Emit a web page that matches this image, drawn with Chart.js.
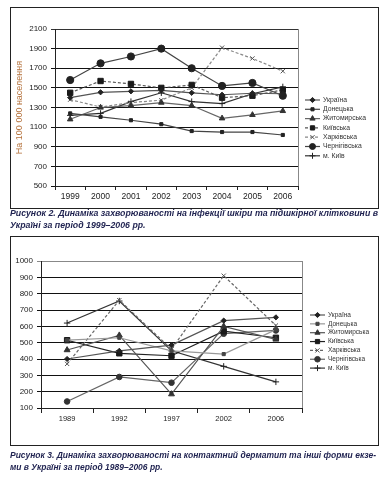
<!DOCTYPE html>
<html><head><meta charset="utf-8">
<script src="https://cdn.jsdelivr.net/npm/chart.js@4"></script>
<style>
body{margin:0;background:#fff;width:381px;height:477px;position:relative;overflow:hidden;font-family:"Liberation Sans",Arial,sans-serif}
canvas{position:absolute}
.frame{position:absolute;border:1px solid #222;box-sizing:border-box;pointer-events:none}
.cap{position:absolute;left:10px;white-space:nowrap;font:bold italic 9px "Liberation Sans",Arial,sans-serif;color:#1f2250;transform-origin:0 50%;line-height:11px}
</style></head><body>
<canvas id="c1" width="368" height="201" style="left:10px;top:7px"></canvas>
<div class="frame" style="left:10px;top:7px;width:369px;height:202px"></div>
<div class="cap" id="a1" style="top:208px">Рисунок 2. Динаміка захворюваності на інфекції шкіри та підшкірної клітковини в</div>
<div class="cap" id="a2" style="top:220px">Україні за період 1999–2006 рр.</div>
<canvas id="c2" width="368" height="209" style="left:10px;top:236px"></canvas>
<div class="frame" style="left:10px;top:236px;width:369px;height:210px"></div>
<div class="cap" id="b1" style="top:450px">Рисунок 3. Динаміка захворюваності на контактний дерматит та інші форми екзе-</div>
<div class="cap" id="b2" style="top:462px">ми в Україні за період 1989–2006 рр.</div>
<script>
// ---- data ----
const seriesNames = ['Україна','Донецька','Житомирська','Київська','Харківська','Чернігівська','м. Київ'];

const years1 = ['1999','2000','2001','2002','2003','2004','2005','2006'];
const ukraine1   = [1400,1455,1465,1475,1450,1430,1445,1440];
const donetsk1   = [1240,1205,1170,1130,1060,1050,1050,1020];
const zhytomyr1  = [1180,1300,1320,1350,1320,1190,1225,1265];
const kyivObl1   = [1450,1570,1540,1500,1530,1400,1420,1480];
const kharkiv1   = [1380,1305,1350,1375,1500,1910,1800,1670];
const chernihiv1 = [1580,1750,1820,1900,1700,1520,1550,1420];
const kyivCity1  = [1220,1240,1360,1450,1360,1340,1440,1510];
const yTicks1 = [500,700,900,1100,1300,1500,1700,1900,2100];
const yTitle1 = 'На 100 000 населення';

const years2 = ['1989','1992','1997','2002','2006'];
const ukraine2   = [400,450,485,635,655];
const donetsk2   = [515,530,450,430,580];
const zhytomyr2  = [455,545,185,600,520];
const kyivObl2   = [515,435,420,570,530];
const kharkiv2   = [370,760,460,910,605];
const chernihiv2 = [140,290,255,555,575];
const kyivCity2  = [620,755,450,355,260];
const yTicks2 = [100,200,300,400,500,600,700,800,900,1000];

// ---- styles ----
const markers = ['rectRot','rect','triangle','rect','crossRot','circle','cross'];
const radii1  = [2.6,2.2,3.2,3.8,3,3.6,3.2];
const radii2  = [2.6,2.2,3.4,3.8,3,2.8,3.2];
const style1 = [
  {c:'#555',m:'#222',d:[]},
  {c:'#444',m:'#222',d:[]},
  {c:'#666',m:'#333',d:[]},
  {c:'#555',m:'#1a1a1a',d:[3,2]},
  {c:'#888',m:'#555',d:[3,2]},
  {c:'#444',m:'#222',d:[]},
  {c:'#333',m:'#222',d:[]}
];
const style2 = [
  {c:'#555',m:'#222',d:[]},
  {c:'#999',m:'#444',d:[]},
  {c:'#555',m:'#333',d:[]},
  {c:'#222',m:'#1a1a1a',d:[]},
  {c:'#666',m:'#555',d:[3,2]},
  {c:'#666',m:'#333',d:[]},
  {c:'#333',m:'#222',d:[]}
];

function makeSets(arrs, st, radii){
  return arrs.map((a,i)=>({
    label: seriesNames[i], data: a,
    borderColor: st[i].c, borderWidth: 1.2, borderDash: st[i].d,
    pointStyle: markers[i], pointRadius: radii[i],
    pointBackgroundColor: st[i].m, pointBorderColor: st[i].m, pointBorderWidth: 1,
    fill:false, tension:0
  }));
}

const legendPlugin = {
  id:'customLegend',
  afterDraw(chart, args, o){
    const ctx = chart.ctx;
    ctx.save();
    chart.data.datasets.forEach((ds,i)=>{
      const y = o.y + i*o.dy;
      ctx.strokeStyle = ds.borderColor; ctx.lineWidth = 1.2;
      ctx.setLineDash(ds.borderDash||[]);
      ctx.beginPath(); ctx.moveTo(o.x, y); ctx.lineTo(o.x+o.w, y); ctx.stroke();
      ctx.setLineDash([]);
      ctx.fillStyle = ds.pointBackgroundColor; ctx.strokeStyle = ds.pointBorderColor; ctx.lineWidth = 1;
      Chart.helpers.drawPoint(ctx, {pointStyle: ds.pointStyle, radius: Math.min(ds.pointRadius,3), rotation:0, borderWidth:1}, o.x+o.w/2, y);
      ctx.fillStyle = '#333'; ctx.font = o.font; ctx.textBaseline = 'middle'; ctx.textAlign='left';
      ctx.fillText(ds.label, o.tx, y);
    });
    ctx.restore();
  }
};
const borderPlugin = {
  id:'plotBorder',
  beforeDatasetsDraw(chart, args, o){
    const a = chart.chartArea, ctx = chart.ctx;
    ctx.save(); ctx.strokeStyle = o.color; ctx.lineWidth = 1;
    ctx.beginPath();
    ctx.moveTo(Math.round(a.right)+0.5, a.top); ctx.lineTo(Math.round(a.right)+0.5, a.bottom);
    ctx.stroke(); ctx.restore();
  }
};

function makeChart(id, labels, arrs, st, radii, cfg){
  return new Chart(document.getElementById(id), {
    type:'line',
    data:{labels, datasets: makeSets(arrs, st, radii)},
    plugins:[legendPlugin, borderPlugin],
    options:{
      responsive:false, animation:false,
      layout:{padding:cfg.pad},
      plugins:{legend:{display:false}, tooltip:{enabled:false},
        customLegend:cfg.legend, plotBorder:{color:'#888'}},
      scales:{
        x:{type:'category', offset:true,
          grid:{offset:true, drawOnChartArea:false, drawTicks:true, tickLength:cfg.xTick, color:'#222'},
          border:{color:'#222', width:1},
          ticks:{color:'#222', font:{family:'Liberation Sans', size:cfg.xFont}, padding:cfg.xPad, maxRotation:0, autoSkip:false},
          afterFit:s=>{s.height = cfg.xH;}
        },
        y:{min:cfg.yTicks[0], max:cfg.yTicks[cfg.yTicks.length-1],
          afterBuildTicks:s=>{s.ticks = cfg.yTicks.map(v=>({value:v}));},
          grid:{color:c=> (c.tick && c.tick.value===cfg.yTicks[cfg.yTicks.length-1]) ? cfg.topGrid : '#111', lineWidth:1, drawTicks:true, tickLength:4},
          border:{color:'#222', width:1},
          ticks:{color:'#222', font:{family:'Liberation Sans', size:8}, padding:4, callback:v=>String(v)},
          title: cfg.yTitle ? {display:true, text:cfg.yTitle, color:'#b5723c', font:{family:'Liberation Sans', size:9}, padding:{top:4,bottom:0}} : {display:false},
          afterFit:s=>{s.width = cfg.yW;}
        }
      }
    }
  });
}

makeChart('c1', years1, [ukraine1,donetsk1,zhytomyr1,kyivObl1,kharkiv1,chernihiv1,kyivCity1], style1, radii1, {
  pad:{left:0,right:80,top:22,bottom:0}, yW:45, xH:22, xTick:4, xPad:2, xFont:8.5,
  yTicks:yTicks1, yTitle:yTitle1, topGrid:'#333',
  legend:{x:295, w:15, y:93, dy:9.3, tx:313, font:'6.8px "Liberation Sans"'}
});
makeChart('c2', years2, [ukraine2,donetsk2,zhytomyr2,kyivObl2,kharkiv2,chernihiv2,kyivCity2], style2, radii2, {
  pad:{left:0,right:76,top:25,bottom:0}, yW:31, xH:37, xTick:5, xPad:1, xFont:7.5,
  yTicks:yTicks2, yTitle:null, topGrid:'#888',
  legend:{x:300, w:15, y:79, dy:8.85, tx:318, font:'6.5px "Liberation Sans"'}
});

function fit(a,b,target){
  const e1=document.getElementById(a), e2=document.getElementById(b);
  const w=e1.getBoundingClientRect().width;
  const k=target/w;
  e1.style.transform='scaleX('+k+')'; e2.style.transform='scaleX('+k+')';
}
fit('a1','a2',368);
fit('b1','b2',366);
</script>
</body></html>
